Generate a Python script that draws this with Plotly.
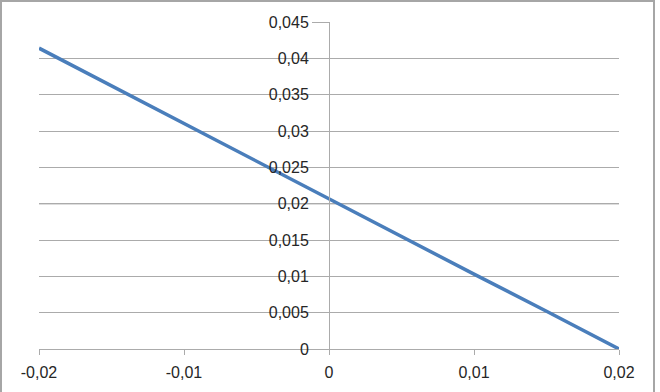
import plotly.graph_objects as go

x_vals = [-0.02, -0.015, -0.01, -0.005, 0.0, 0.005, 0.01, 0.015, 0.02]
y_vals = [0.0414, 0.0362, 0.0310, 0.0259, 0.0207, 0.0155, 0.0103, 0.0052, 0.0]

x_ticks = [-0.02, -0.01, 0.0, 0.01, 0.02]
x_ticktext = ["-0,02", "-0,01", "0", "0,01", "0,02"]
y_ticks = [0, 0.005, 0.01, 0.015, 0.02, 0.025, 0.03, 0.035, 0.04, 0.045]
y_ticktext = ["0", "0,005", "0,01", "0,015", "0,02", "0,025", "0,03", "0,035", "0,04", "0,045"]

GRID = "#ababab"
FONT = dict(family="Liberation Sans", size=16, color="#262626")

fig = go.Figure()
fig.add_trace(go.Scatter(
    x=x_vals, y=y_vals, mode="lines",
    line=dict(color="#4a7ebb", width=3.5),
    cliponaxis=False, hoverinfo="skip", showlegend=False,
))

fig.update_layout(
    width=660, height=392,
    margin=dict(l=39, r=41, t=22, b=43),
    paper_bgcolor="white", plot_bgcolor="white",
    font=FONT,
    xaxis=dict(
        range=[-0.02, 0.02], tickvals=x_ticks, ticktext=x_ticktext,
        showgrid=False, zeroline=False,
        showline=True, linecolor=GRID, linewidth=1,
        ticks="outside", ticklen=5, tickcolor=GRID, tickwidth=1,
        tickfont=FONT, ticklabelstandoff=4,
    ),
    yaxis=dict(
        range=[0, 0.045], tickvals=y_ticks, ticktext=y_ticktext,
        showgrid=True, gridcolor=GRID, gridwidth=1,
        zeroline=False, anchor="free", position=0.5,
        showline=True, linecolor=GRID, linewidth=1,
        ticks="outside", ticklen=17, tickcolor=GRID, tickwidth=1,
        tickfont=FONT, ticklabelstandoff=0,
    ),
    shapes=[
        dict(type="line", xref="paper", yref="y", x0=0, x1=1,
             y0=y_ticks[4], y1=y_ticks[4],
             line=dict(color="#7a7a7a", width=1.3), layer="below"),
        dict(type="rect", xref="paper", yref="paper",
             x0=-38 / 580, x1=615 / 580, y0=-50 / 327, y1=348 / 327,
             line=dict(color="#a6a6a6", width=2), layer="above"),
    ],
)

fig.write_html("out.html")
